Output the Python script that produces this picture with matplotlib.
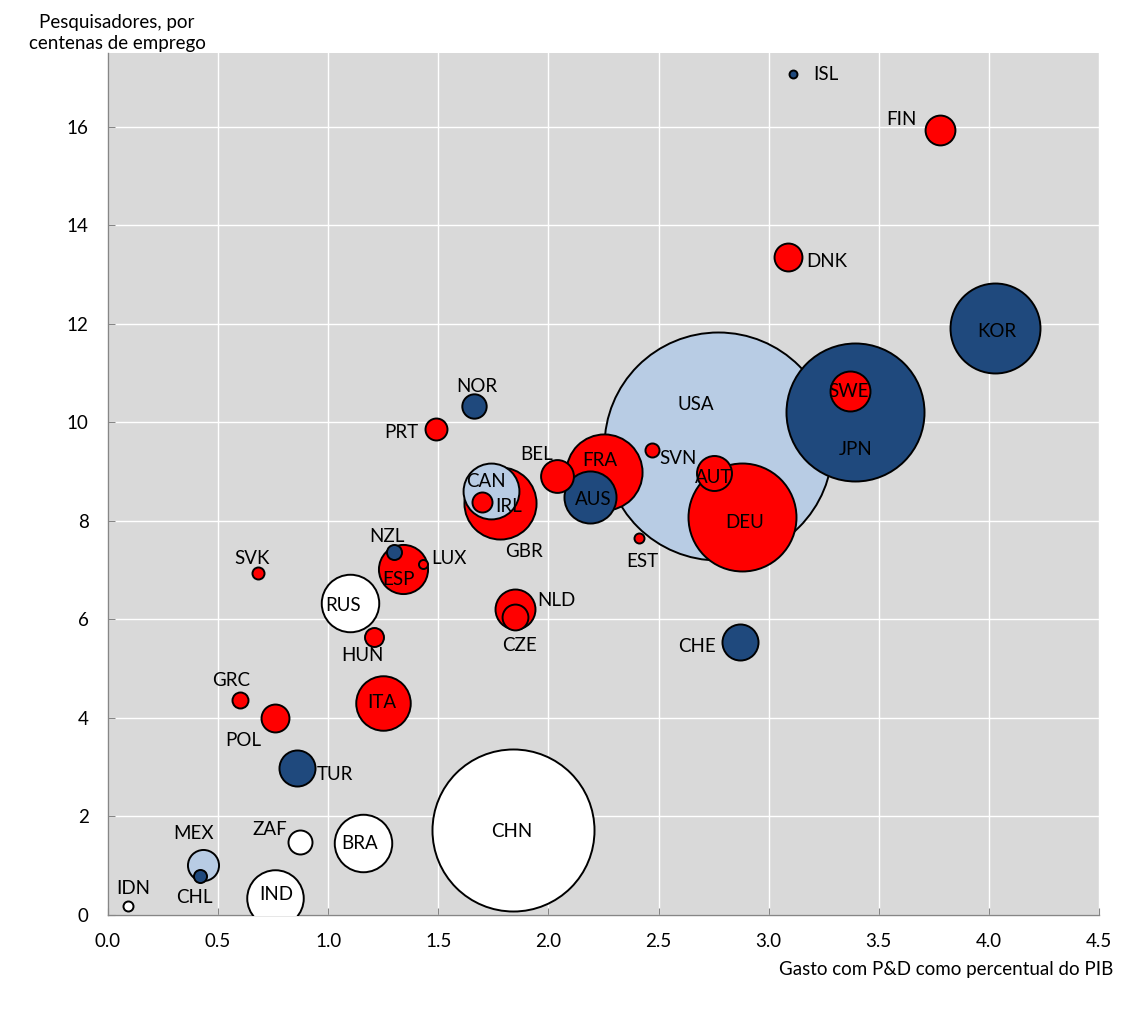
import matplotlib
matplotlib.use("Agg")
import matplotlib.pyplot as plt
import numpy as np

plt.rcParams['font.family'] = ['Lato', 'DejaVu Sans']

# ---- data ----
countries = ["USA", "CHN", "JPN", "DEU", "KOR", "FRA", "GBR", "RUS", "BRA", "IND",
             "CAN", "ITA", "AUS", "ESP", "SWE", "NLD", "TUR", "CHE", "AUT", "BEL",
             "MEX", "FIN", "DNK", "POL", "CZE", "NOR", "ZAF", "PRT", "IRL", "HUN",
             "GRC", "NZL", "SVN", "CHL", "SVK", "IDN", "EST", "LUX", "ISL"]
rd_spend = [2.77, 1.84, 3.39, 2.88, 4.03, 2.25, 1.78, 1.10, 1.16, 0.76,
            1.74, 1.25, 2.19, 1.34, 3.37, 1.85, 0.86, 2.87, 2.75, 2.04,
            0.43, 3.78, 3.09, 0.76, 1.85, 1.66, 0.87, 1.49, 1.70, 1.21,
            0.60, 1.30, 2.47, 0.42, 0.68, 0.09, 2.41, 1.43, 3.11]
researchers = [9.52, 1.72, 10.21, 8.09, 11.92, 9.00, 8.37, 6.34, 1.46, 0.35,
               8.61, 4.30, 8.49, 7.02, 10.64, 6.21, 2.98, 5.54, 8.97, 8.92,
               1.02, 15.94, 13.36, 3.99, 6.04, 10.33, 1.48, 9.87, 8.39, 5.64,
               4.37, 7.36, 9.44, 0.80, 6.94, 0.18, 7.65, 7.13, 17.08]
bubble_size = [1400, 707, 513, 314, 218, 156, 140, 89, 89, 86,
               84, 80, 73, 65, 43, 43, 35, 35, 33, 29,
               26, 24, 21, 21, 18, 16, 15.5, 13, 10.8, 9.7,
               6.9, 6.1, 5.3, 4.6, 3.9, 2.7, 2.7, 2.2, 1.7]
group = ["lb", "w", "db", "r", "db", "r", "r", "w", "w", "w",
         "lb", "r", "db", "r", "r", "r", "db", "db", "r", "r",
         "lb", "r", "r", "r", "r", "db", "w", "r", "r", "r",
         "r", "db", "r", "db", "r", "w", "r", "r", "db"]

x_ticks = [0.0, 0.5, 1.0, 1.5, 2.0, 2.5, 3.0, 3.5, 4.0, 4.5]
y_ticks = [0, 2, 4, 6, 8, 10, 12, 14, 16]

# ---- styles ----
colors = {"r": "#ff0000", "db": "#1f497d", "lb": "#b8cce4", "w": "#ffffff"}
label_offsets = {  # pixels
    "ISL": (33, -1), "FIN": (-39, 10), "DNK": (38, -5), "KOR": (1, -4),
    "JPN": (1, -37.5), "SWE": (-2, -1), "USA": (-22, 42), "DEU": (2, -5.5),
    "AUT": (0, -4), "SVN": (26, -8), "EST": (4, -23), "FRA": (-4, 11),
    "AUS": (3, -3), "BEL": (-21, 21.5), "GBR": (24, -48.7), "CAN": (-5.7, 9.3),
    "IRL": (26.3, -5), "NOR": (3, 20), "PRT": (-34.7, -4), "NZL": (-7.3, 16),
    "LUX": (26.4, 5.7), "ESP": (-4.7, -10.5), "SVK": (-6, 15), "RUS": (-6.7, -2.7),
    "HUN": (-12, -18.4), "NLD": (41.2, 9), "CZE": (3.6, -27.7), "GRC": (-9.3, 19.3),
    "POL": (-32.3, -21.7), "ITA": (-1.3, 0.7), "TUR": (37.3, -6.7), "ZAF": (-29.3, 12.3),
    "BRA": (-3.7, -0.4), "CHN": (-1, -1.7), "MEX": (-8.7, 31.4), "CHL": (-5.7, -21.7),
    "IDN": (5.7, 18), "IND": (0.7, 3.7), "CHE": (-43, -4),
}
FS = 13.5

DPI = 100
fig = plt.figure(figsize=(11.25, 10.11), dpi=DPI)
ax = fig.add_axes([108 / 1125, 96 / 1011, (1099 - 108) / 1125, (915 - 53) / 1011])
ax.set_facecolor("#d9d9d9")

ax.set_xlim(0, 4.5)
ax.set_ylim(0, 17.5)
ax.set_xticks(x_ticks)
ax.set_xticklabels([f"{t:.1f}" for t in x_ticks])
ax.set_yticks(y_ticks)
ax.set_yticklabels([str(t) for t in y_ticks])
ax.grid(True, color="white", linewidth=1.0)
ax.set_axisbelow(True)
for s in ["top", "right"]:
    ax.spines[s].set_visible(False)
for s in ["left", "bottom"]:
    ax.spines[s].set_color("#868686")
    ax.spines[s].set_linewidth(1.0)
ax.tick_params(direction="in", length=5, color="#868686", labelsize=FS, colors="black")
ax.tick_params(axis="x", pad=13)
ax.tick_params(axis="y", pad=14)

# radius in pixels proportional to sqrt(size); USA ~114 px
r_px = 114 * np.sqrt(np.array(bubble_size) / 1400.0)
s_pts = (2 * r_px * 72.0 / DPI) ** 2

order = np.argsort(-np.array(bubble_size), kind="stable")
for z, i in enumerate(order):
    ax.scatter(rd_spend[i], researchers[i], s=s_pts[i], c=colors[group[i]],
               edgecolors="black", linewidths=1.4, zorder=3 + z, clip_on=True)

for i, c in enumerate(countries):
    dx, dy = label_offsets[c]
    ax.annotate(c, (rd_spend[i], researchers[i]), xytext=(dx, dy),
                textcoords="offset pixels", ha="center", va="center",
                fontsize=FS, color="black", zorder=200)

fig.text(117 / 1125, 1 - 33 / 1011, "Pesquisadores, por\ncentenas de emprego",
         ha="center", va="center", fontsize=FS, linespacing=1.3)
fig.text(1113 / 1125, 1 - 970 / 1011, "Gasto com P&D como percentual do PIB",
         ha="right", va="center", fontsize=FS)

fig.savefig("out.png", dpi=DPI)
